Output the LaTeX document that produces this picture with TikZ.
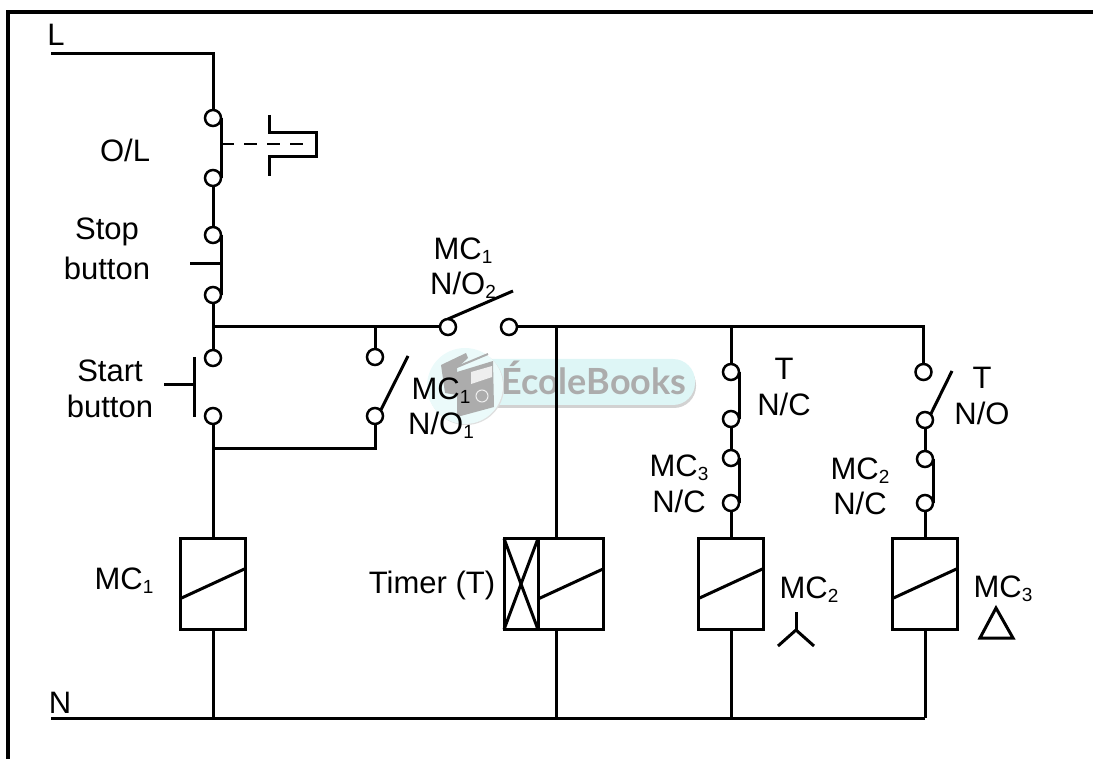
\documentclass[tikz,border=0pt]{standalone}
\usepackage{fontspec}
\setmainfont{Liberation Sans}
\newfontfamily\markfont{Lato}
\usetikzlibrary{positioning}
\definecolor{markcyan}{RGB}{222,246,246}
\definecolor{markgray}{RGB}{172,172,172}
\newcommand{\lsub}[1]{\raisebox{-4pt}{\fontsize{19pt}{19pt}\selectfont #1}}
\tikzset{
  wire/.style={line width=3pt},
  term/.style={circle,draw,line width=2.5pt,fill=white,minimum size=16pt,inner sep=0pt,outer sep=0pt},
  cbox/.style={rectangle,draw,wire,minimum width=65pt,minimum height=91pt,inner sep=0pt,outer sep=0pt},
  coil/.style={cbox,
    path picture={\draw[wire]([yshift=-15pt]path picture bounding box.west)--([yshift=15pt]path picture bounding box.east);}},
  lab/.style={font=\fontsize{31pt}{31pt}\selectfont,inner sep=0pt,outer sep=0pt}
}
\begin{document}
\begin{tikzpicture}[x=1pt,y=-1pt]
  \useasboundingbox(0,0)rectangle(1093,759);
  % frame
  \draw[line width=4.5pt](8,759)--(8,12)--(1093,12);
  % watermark
  \fill[gray!35,rounded corners=22pt](445,363)rectangle(696,408);
  \fill[markcyan,rounded corners=22pt](440,359)rectangle(695,405);
  \fill[gray!25](466,387)circle(38);
  \fill[markcyan!60!white](465,386)circle(38);
  \fill[markgray](441,365)--(466,353)--(468,358)--(457,368)--(457,395)--(445,393)--cycle;
  \draw[markgray,line width=2pt](457,367)--(488,354);
  \fill[markgray](457,372)--(493,361)--(494,407)--(457,417)--cycle;
  \fill[white!80!markgray](471,372)--(492,366)--(492,377)--(471,384)--cycle;
  \draw[white!80!markgray,line width=1pt](482,396)circle(6);
  \node[inner sep=0pt,text=markgray,font=\markfont\bfseries\fontsize{36pt}{36pt}\selectfont,anchor=west](markname)at(501,378){ÉcoleBooks};
  % terminals
  \node[term](olt)at(213,118){};
  \node[term](olb)at(213,178){};
  \node[term](stopt)at(213,235){};
  \node[term](stopb)at(213,295){};
  \node[term](startt)at(213,358){};
  \node[term](startb)at(213,416){};
  \node[term](holdt)at(375,357){};
  \node[term](holdb)at(375,416){};
  \node[term](mainl)at(448,327){};
  \node[term](mainr)at(509,327){};
  \node[term](tnct)at(731,372){};
  \node[term](tncb)at(731,419){};
  \node[term](mcnct)at(731,458){};
  \node[term](mcncb)at(731,503){};
  \node[term](tnot)at(923.5,372){};
  \node[term](tnob)at(925,420){};
  \node[term](mdnct)at(925,459){};
  \node[term](mdncb)at(925,503){};
  % coils
  \node[coil](coila)at(213,583.5){};
  \node[coil](coilt)at(570.5,584){};
  \node[cbox,minimum width=34pt,right=0pt of coilt.west,xshift=-34pt](timerx){};
  \node[coil](coilb)at(731,583.5){};
  \node[coil](coilc)at(925,583.5){};
  \draw[wire](timerx.south west)--(timerx.north east);
  \draw[wire](timerx.north west)--(timerx.south east);
  % rails
  \coordinate(lstart)at(51,54);
  \coordinate(lcorner)at(213,54);
  \coordinate(nstart)at(51,718);
  \coordinate(nend)at(925,718);
  \coordinate(busa)at(213,327);
  \coordinate(busb)at(375,327);
  \coordinate(busc)at(556,327);
  \coordinate(busd)at(731,327);
  \coordinate(buse)at(923.5,327);
  \coordinate(holda)at(213,448);
  \coordinate(holdc)at(375,448);
  \draw[wire](lstart)--(lcorner)--(olt.north);
  \draw[wire](nstart)--(nend);
  \draw[wire](olb.south)--(stopt.north);
  \draw[wire](stopb.south)--(startt.north);
  \draw[wire](busa)--(mainl.west);
  \draw[wire](mainr.east)--(buse)--(tnot.north);
  \draw[wire](busb)--(holdt.north);
  \draw[wire](holdb.south)--(holdc)--(holda);
  \draw[wire](startb.south)--(coila.north);
  \draw[wire](coila.south)--(coila.south|-nstart);
  \draw[wire](busc)--(busc|-coilt.north);
  \draw[wire](busc|-coilt.south)--(busc|-nstart);
  \draw[wire](busd)--(tnct.north);
  \draw[wire](tncb.south)--(mcnct.north);
  \draw[wire](mcncb.south)--(coilb.north);
  \draw[wire](coilb.south)--(coilb.south|-nstart);
  \draw[wire](tnob.south)--(mdnct.north);
  \draw[wire](mdncb.south)--(coilc.north);
  \draw[wire](coilc.south)--(nend);
  % closed contacts
  \draw[wire](olt.east)--(olb.east);
  \draw[wire](stopt.east)--(stopb.east);
  \draw[wire](tnct.east)--(tncb.east);
  \draw[wire](mcnct.east)--(mcncb.east);
  \draw[wire](mdnct.east)--(mdncb.east);
  \coordinate(stoppush)at(190,264);
  \draw[wire](stoppush)--(stoppush-|stopt.east);
  % open contacts
  \coordinate(startup)at(194,357);
  \coordinate(startdn)at(194,417);
  \coordinate(startpush)at(164,385);
  \draw[wire](startup)--(startdn);
  \draw[wire](startpush)--(startpush-|startup);
  \coordinate(holdfree)at(408,356);
  \draw[wire](holdb.north east)--(holdfree);
  \coordinate(mainfree)at(513,291);
  \draw[wire](mainl.north)--(mainfree);
  \coordinate(tnofree)at(952,371);
  \draw[wire](tnob.north east)--(tnofree);
  % overload element
  \coordinate(olmid)at(221,144.5);
  \coordinate(olend)at(306,144.5);
  \draw[line width=2pt,dash pattern=on 13pt off 10pt](olmid)--(olend);
  \draw[wire,line join=miter](269,115)--(269,133)--(316,133)--(316,157)--(269,157)--(269,176);
  % star and delta marks
  \coordinate(starc)at(796,630);
  \coordinate(startop)at(796,612);
  \coordinate(starl)at(778,646);
  \coordinate(starr)at(814,646);
  \draw[wire](startop)--(starc);
  \draw[wire](starl)--(starc)--(starr);
  \coordinate(deltop)at(996,608);
  \coordinate(dell)at(980,638);
  \coordinate(delr)at(1013,638);
  \draw[wire](deltop)--(dell)--(delr)--cycle;
  % labels
  \node[lab](lline)at(56,35){L};
  \node[lab](nline)at(60,703){N};
  \node[lab](ollab)at(125,150){O/L};
  \node[lab](stoplaba)at(107,232){Stop};
  \node[lab](stoplabb)at(107,268){button};
  \node[lab](startlaba)at(110,371){Start};
  \node[lab](startlabb)at(110,406){button};
  \node[lab](mainlaba)at(463,251){MC\lsub{1}};
  \node[lab](mainlabb)at(463,285){N/O\lsub{2}};
  \node[lab](holdlaba)at(441,391){MC\lsub{1}};
  \node[lab](holdlabb)at(441,425){N/O\lsub{1}};
  \node[lab](tnclaba)at(784,369){T};
  \node[lab](tnclabb)at(784,404){N/C};
  \node[lab](mcnclaba)at(679,468){MC\lsub{3}};
  \node[lab](mcnclabb)at(679,501){N/C};
  \node[lab](tnolaba)at(982,378){T};
  \node[lab](tnolabb)at(982,413){N/O};
  \node[lab](mdnclaba)at(860,471){MC\lsub{2}};
  \node[lab](mdnclabb)at(860,503){N/C};
  \node[lab](coilalab)at(124,581){MC\lsub{1}};
  \node[lab](coiltlab)at(432,585){Timer (T)};
  \node[lab](coilblab)at(809,590){MC\lsub{2}};
  \node[lab](coilclab)at(1003,589){MC\lsub{3}};
\end{tikzpicture}
\end{document}
